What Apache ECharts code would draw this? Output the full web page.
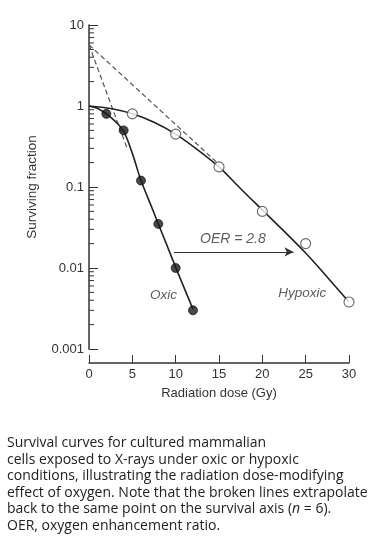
<!DOCTYPE html>
<html>
<head>
<meta charset="utf-8">
<script src="https://cdn.jsdelivr.net/npm/echarts@6/dist/echarts.min.js"></script>
<style>
html,body{margin:0;padding:0;background:#fff;}
#c{width:371px;height:553px;}
</style>
</head>
<body>
<div id="c"></div>
<script>
// ---- data ----
var oxicDose = [2, 4, 6, 8, 10, 12];
var oxicSurv = [0.8, 0.5, 0.12, 0.035, 0.01, 0.003];
var hypoxicDose = [5, 10, 15, 20, 25, 30];
var hypoxicSurv = [0.8, 0.45, 0.177, 0.05, 0.02, 0.0038];
// fitted curves as drawn
var oxicCurveDose = [0, 1, 2, 3, 4, 5, 6, 7, 8, 9, 10, 11, 12];
var oxicCurveSurv = [1, 0.93, 0.8, 0.65, 0.49, 0.26, 0.12, 0.065, 0.035, 0.019, 0.0102, 0.0056, 0.0031];
var hypoxicCurveDose = [0, 2.5, 5, 7.5, 10, 12.5, 15, 17.5, 20, 22.5, 25, 27.5, 30];
var hypoxicCurveSurv = [1, 0.93, 0.8, 0.63, 0.45, 0.29, 0.177, 0.095, 0.052, 0.0285, 0.0153, 0.0077, 0.0038];
// extrapolated broken lines
var dashOxicDose = [0, 4.4];
var dashOxicSurv = [5.7, 0.3];
var dashHypoxicDose = [0, 15];
var dashHypoxicSurv = [5.7, 0.19];
// OER arrow
var arrowDose = [9.8, 23.6];
var arrowSurv = [0.0158, 0.0158];
// annotations
var annoText = ['OER = 2.8', 'Oxic', 'Hypoxic'];
var annoDose = [16.6, 8.6, 24.6];
var annoSurv = [0.0228, 0.0046, 0.0049];
var annoSize = [14, 13.5, 13.5];
// axes
var yTickVals = [0.001, 0.01, 0.1, 1, 10];
var yTickLabels = ['0.001', '0.01', '0.1', '1', '10'];
var yMinorVals = [];
[0.001, 0.01, 0.1, 1].forEach(function (d) {
  [2, 3, 4, 5, 6, 7, 8, 9].forEach(function (m) { yMinorVals.push(+(d * m).toPrecision(3)); });
});
var xTitle = 'Radiation dose (Gy)';
var yTitle = 'Surviving fraction';
var captionLines = [
  'Survival curves for cultured mammalian',
  'cells exposed to X-rays under oxic or hypoxic',
  'conditions, illustrating the radiation dose-modifying',
  'effect of oxygen. Note that the broken lines extrapolate',
  'back to the same point on the survival axis ({i|n} = 6).',
  'OER, oxygen enhancement ratio.'
];

function zip(a, b) { return a.map(function (v, i) { return [v, b[i]]; }); }

var chart = echarts.init(document.getElementById('c'), null, { renderer: 'canvas' });
var axisColor = '#333';
var font = 'Liberation Sans, Arial, sans-serif';
var capFont = '"Open Sans", sans-serif';

chart.setOption({
  animation: false,
  backgroundColor: '#fff',
  grid: { left: 89, right: 22, top: 25, bottom: 204, containLabel: false },
  xAxis: {
    type: 'value', min: 0, max: 30, interval: 5, offset: 14,
    axisLine: { show: true, lineStyle: { color: axisColor, width: 1.5 } },
    axisTick: { show: true, inside: true, length: 8, lineStyle: { color: axisColor, width: 1 } },
    axisLabel: { color: '#333', fontFamily: font, fontSize: 13, margin: 5 },
    splitLine: { show: false },
    name: xTitle, nameLocation: 'middle', nameGap: 24,
    nameTextStyle: { color: '#333', fontFamily: font, fontSize: 13 }
  },
  yAxis: {
    type: 'log', logBase: 10, min: 0.001, max: 10,
    axisLine: { show: true, lineStyle: { color: axisColor, width: 1.5 } },
    axisTick: { show: true, inside: true, length: 9, lineStyle: { color: axisColor, width: 1 } },
    axisLabel: {
      color: '#333', fontFamily: font, fontSize: 13, margin: 5,
      formatter: function (v) {
        for (var i = 0; i < yTickVals.length; i++) {
          if (Math.abs(Math.log10(v) - Math.log10(yTickVals[i])) < 1e-6) return yTickLabels[i];
        }
        return '';
      }
    },
    splitLine: { show: false },
    name: yTitle, nameLocation: 'middle', nameGap: 50, nameRotate: 90,
    nameTextStyle: { color: '#333', fontFamily: font, fontSize: 13.5 }
  },
  graphic: [{
    type: 'text', left: 7, top: 435,
    style: {
      text: captionLines.join('\n'), fill: '#222',
      fontFamily: capFont, fontSize: 14, lineHeight: 16.5,
      rich: { i: { fontFamily: capFont, fontSize: 14, fontStyle: 'italic', fill: '#222', lineHeight: 16.5 } }
    }
  }],
  series: [
    {
      type: 'custom', name: 'minor', silent: true, clip: false,
      data: yMinorVals.map(function (v) { return [0, v]; }),
      renderItem: function (params, api) {
        var p = api.coord([api.value(0), api.value(1)]);
        return { type: 'line', shape: { x1: p[0], y1: p[1], x2: p[0] + 5, y2: p[1] },
                 style: { stroke: axisColor, lineWidth: 1 } };
      }
    },
    {
      type: 'line', name: 'dashOxic', data: zip(dashOxicDose, dashOxicSurv), symbol: 'none',
      lineStyle: { color: '#555', width: 1.2, type: [5, 3] }, z: 2
    },
    {
      type: 'line', name: 'dashHypoxic', data: zip(dashHypoxicDose, dashHypoxicSurv), symbol: 'none',
      lineStyle: { color: '#555', width: 1.2, type: [5, 3] }, z: 2
    },
    {
      type: 'line', name: 'oxicCurve', data: zip(oxicCurveDose, oxicCurveSurv), symbol: 'none',
      smooth: 0.3, lineStyle: { color: '#222', width: 1.6 }, z: 3
    },
    {
      type: 'line', name: 'hypoxicCurve', data: zip(hypoxicCurveDose, hypoxicCurveSurv), symbol: 'none',
      smooth: 0.3, lineStyle: { color: '#222', width: 1.6 }, z: 3
    },
    {
      type: 'scatter', name: 'Oxic', data: zip(oxicDose, oxicSurv), symbol: 'circle', symbolSize: 9,
      itemStyle: { color: '#1a1a1a', borderColor: '#000', borderWidth: 0.8 }, z: 5
    },
    {
      type: 'scatter', name: 'Hypoxic', data: zip(hypoxicDose, hypoxicSurv), symbol: 'circle', symbolSize: 10,
      itemStyle: { color: '#fff', borderColor: '#444', borderWidth: 1.1 }, z: 5
    },
    {
      type: 'line', name: 'arrow', data: zip(arrowDose, arrowSurv), symbol: 'none',
      lineStyle: { opacity: 0 },
      markLine: {
        silent: true, symbol: ['none', 'arrow'], symbolSize: [7, 9],
        label: { show: false },
        lineStyle: { color: '#333', width: 1, type: 'solid' },
        data: [[{ coord: [arrowDose[0], arrowSurv[0]] }, { coord: [arrowDose[1], arrowSurv[1]] }]]
      }
    },
    {
      type: 'scatter', name: 'labels', symbolSize: 0, silent: true,
      data: annoText.map(function (t, i) {
        return { value: [annoDose[i], annoSurv[i]], name: t, label: { fontSize: annoSize[i] } };
      }),
      label: {
        show: true, position: 'inside', formatter: '{b}',
        color: '#333', fontFamily: font, fontStyle: 'italic'
      }
    }
  ]
});
</script>
</body>
</html>
